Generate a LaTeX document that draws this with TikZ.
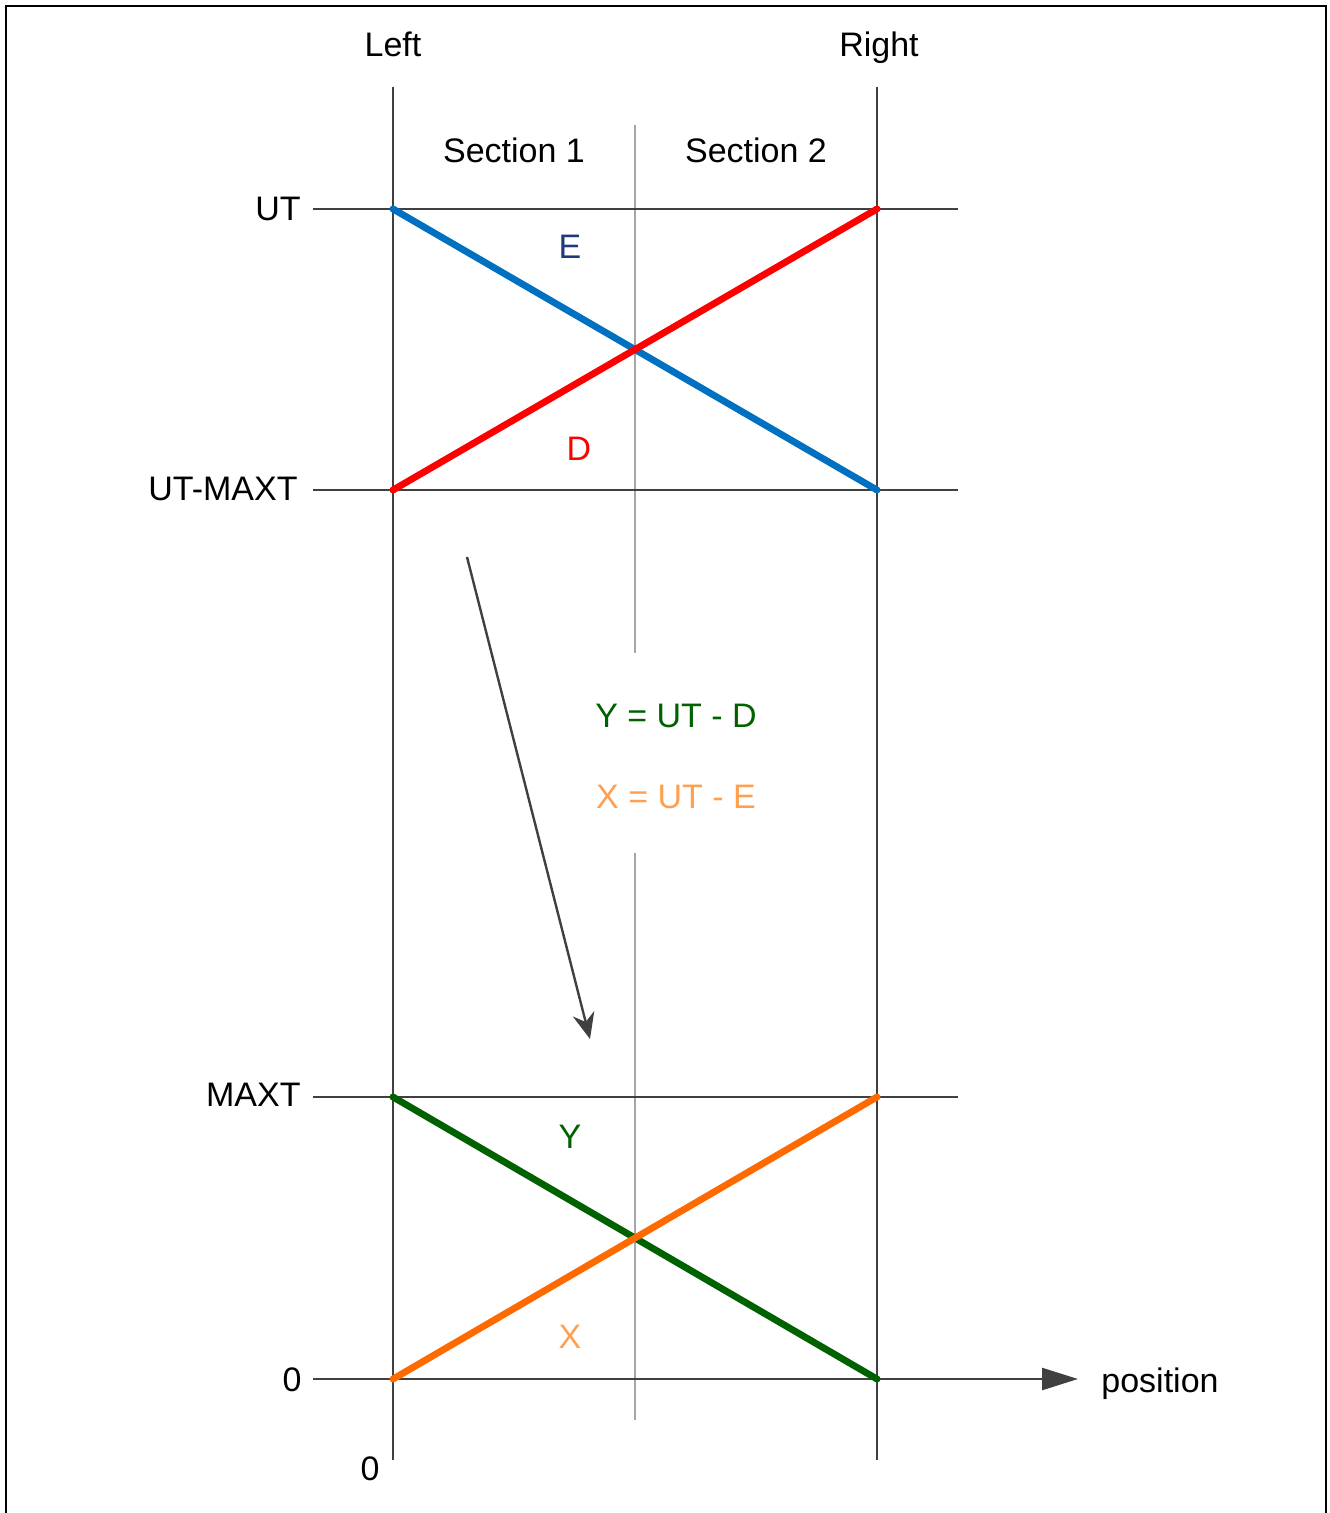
\documentclass[tikz,border=0pt]{standalone}
\usepackage{fontspec}
\setmainfont{Liberation Sans}
\usepackage{tikz}
\usetikzlibrary{arrows.meta,positioning}
\definecolor{axisink}{HTML}{404040}
\definecolor{midgray}{HTML}{A6A6A6}
\definecolor{lineblue}{HTML}{0070C0}
\definecolor{linered}{HTML}{FF0000}
\definecolor{linegreen}{HTML}{006100}
\definecolor{lineorange}{HTML}{FF6A00}
\definecolor{labelblue}{HTML}{1F3A7A}
\definecolor{labelorange}{HTML}{FFA050}

\begin{document}
\begin{tikzpicture}[
  x=0.5pt,y=-0.5pt,
  >=Stealth,
  axis/.style={draw=axisink,line width=1.2pt},
  midline/.style={draw=midgray,line width=1.2pt},
  profile/.style={line width=3.4pt},
  txt/.style={font=\fontsize{17pt}{20pt}\selectfont,inner sep=0pt},
  dot/.style={circle,fill=#1,inner sep=0pt,minimum size=3.5pt}
]
  \useasboundingbox (0,0) rectangle (1329,1513);
  \draw[line width=1.3pt] (6,6) rectangle (1326,1530);

  % frame of the two walls
  \coordinate (ltop) at (393,87);  \coordinate (lbot) at (393,1460);
  \coordinate (rtop) at (877,87);  \coordinate (rbot) at (877,1460);
  \draw[axis] (ltop) -- (lbot);
  \draw[axis] (rtop) -- (rbot);
  \draw[midline] (635,125) -- (635,653);
  \draw[midline] (635,853) -- (635,1420);

  % levels
  \coordinate (ut0) at (313,209);  \coordinate (ut1) at (958,209);
  \coordinate (um0) at (313,490);  \coordinate (um1) at (958,490);
  \coordinate (mx0) at (313,1097); \coordinate (mx1) at (958,1097);
  \coordinate (z0) at (313,1379);  \coordinate (z1) at (1078,1379);
  \draw[axis] (ut0) -- (ut1);
  \draw[axis] (um0) -- (um1);
  \draw[axis] (mx0) -- (mx1);
  \draw[axis,-{Triangle[length=18pt,width=11pt]}] (z0) -- (z1);

  \node[txt,anchor=base] (left) at (393,57) {Left};
  \node[txt,anchor=base] (right) at (879,57) {Right};
  \node[txt] (sec1) at (514,150) {Section 1};
  \node[txt] (sec2) at (756,150) {Section 2};
  \node[txt,anchor=east] (ut) at (301,209) {UT};
  \node[txt,anchor=east] (utmaxt) at (298,489) {UT-MAXT};
  \node[txt,anchor=east] (maxt) at (301,1095) {MAXT};
  \node[txt,anchor=east] (zero) at (302,1380) {0};
  \node[txt] (origin) at (370,1469) {0};
  \node[txt,anchor=base west] (pos) at (1101,1392) {position};

  % upper pair
  \node[dot=lineblue] (e0) at (393,209) {};
  \node[dot=lineblue] (e1) at (877,490) {};
  \node[dot=linered] (d0) at (393,490) {};
  \node[dot=linered] (d1) at (877,209) {};
  \draw[profile,lineblue] (e0.center) -- (e1.center);
  \draw[profile,linered] (d0.center) -- (d1.center);
  \node[txt,text=labelblue] (elab) at (570,247) {E};
  \node[txt,text=linered] (dlab) at (579,449) {D};

  % transfer
  \coordinate (from) at (467,557);
  \coordinate (to) at (590,1039);
  \draw[axisink,line width=1.2pt,-{Stealth[length=13pt,width=11pt]}] (from) -- (to);
  \node[txt,text=linegreen] (yeq) at (676,716) {Y = UT - D};
  \node[txt,text=labelorange] (xeq) at (676,797) {X = UT - E};

  % lower pair
  \node[dot=linegreen] (y0) at (393,1097) {};
  \node[dot=linegreen] (y1) at (877,1379) {};
  \node[dot=lineorange] (x0) at (393,1379) {};
  \node[dot=lineorange] (x1) at (877,1097) {};
  \draw[profile,linegreen] (y0.center) -- (y1.center);
  \draw[profile,lineorange] (x0.center) -- (x1.center);
  \node[txt,text=linegreen] (ylab) at (570,1137) {Y};
  \node[txt,text=labelorange] (xlab) at (570,1337) {X};
\end{tikzpicture}
\end{document}
